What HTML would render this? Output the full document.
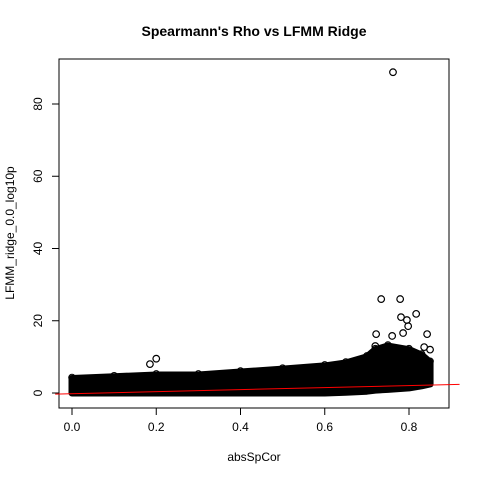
<!DOCTYPE html>
<html><head><meta charset="utf-8"><style>
body{margin:0;background:#fff}
svg{display:block;font-family:"Liberation Sans",sans-serif}
</style></head><body>
<svg id="c" width="480" height="480">
<text x="254" y="36" text-anchor="middle" font-size="14" font-weight="bold">Spearmann's Rho vs LFMM Ridge</text>
<rect x="59" y="59" width="390" height="349" fill="none" stroke="#000"/>
<text x="254" y="461" text-anchor="middle" font-size="12">absSpCor</text>
<text transform="translate(14,233) rotate(-90)" text-anchor="middle" font-size="12">LFMM_ridge_0.0_log10p</text>
<g id="axes"></g><g id="marks"></g>
</svg>
<script>
const xTicks=[0,0.2,0.4,0.6,0.8];
const yTicks=[0,20,40,60,80];
const bandX=[0,0.1,0.2,0.3,0.4,0.5,0.6,0.65,0.7,0.72,0.75,0.8,0.83,0.85];
const bandUpper=[4,4.5,5,5,5.8,6.6,7.5,8.3,10,12,13,12,10.5,8.5];
const bandLower=[0,0,0,0,0,0,0,0.2,0.5,0.8,1.0,1.4,2,2.5];
const outX=[0.734,0.779,0.762,0.781,0.795,0.817,0.798,0.786,0.76,0.722,0.843,0.836,0.2,0.72,0.85,0.185,0.565];
const outY=[26,26,88.8,21,20.2,21.9,18.5,16.6,15.8,16.3,16.3,12.7,9.5,13,12,8,6.5];
const fitX=[-0.04,0.92];
const fitY=[-0.3,2.4];
const sx=v=>72+v*421.25, sy=v=>393-v*3.6125;
const NS="http://www.w3.org/2000/svg";
function mk(t,a,p){const e=document.createElementNS(NS,t);for(const k in a)e.setAttribute(k,a[k]);p.appendChild(e);return e;}
const ax=document.getElementById('axes'), mg=document.getElementById('marks');
xTicks.forEach(t=>{
 const l=mk('line',{x1:sx(t),x2:sx(t),y1:408,y2:415,stroke:'#000'},ax);
 
 
 const tx=mk('text',{x:sx(t),y:431,'text-anchor':'middle','font-size':12},ax);tx.textContent=t.toFixed(1);
 
 
});
yTicks.forEach(t=>{
 const l=mk('line',{x1:52,x2:59,y1:sy(t),y2:sy(t),stroke:'#000'},ax);
 
 
 const tx=mk('text',{transform:`translate(42,${sy(t)}) rotate(-90)`,'text-anchor':'middle','font-size':12},ax);tx.textContent=t;
 
 
});
let pts=bandX.map((x,i)=>sx(x)+','+sy(bandUpper[i]));
for(let i=bandX.length-1;i>=0;i--)pts.push(sx(bandX[i])+','+sy(bandLower[i]));
const band=mk('polygon',{points:pts.join(' '),fill:'#000',stroke:'#000','stroke-width':7,'stroke-linejoin':'round'},mg);


bandX.forEach((x,i)=>{
 const c=mk('circle',{cx:sx(x),cy:sy(bandUpper[i])-1,r:3.3,fill:'none',stroke:'#000'},mg);
 
 
});
outX.forEach((x,i)=>{
 const c=mk('circle',{cx:sx(x),cy:sy(outY[i]),r:3.3,fill:'none',stroke:'#000','stroke-width':1.2},mg);
 
 
});
const fl=mk('line',{x1:sx(fitX[0]),y1:sy(fitY[0]),x2:sx(fitX[1]),y2:sy(fitY[1]),stroke:'#f00','stroke-width':1},mg);


</script>
</body></html>
